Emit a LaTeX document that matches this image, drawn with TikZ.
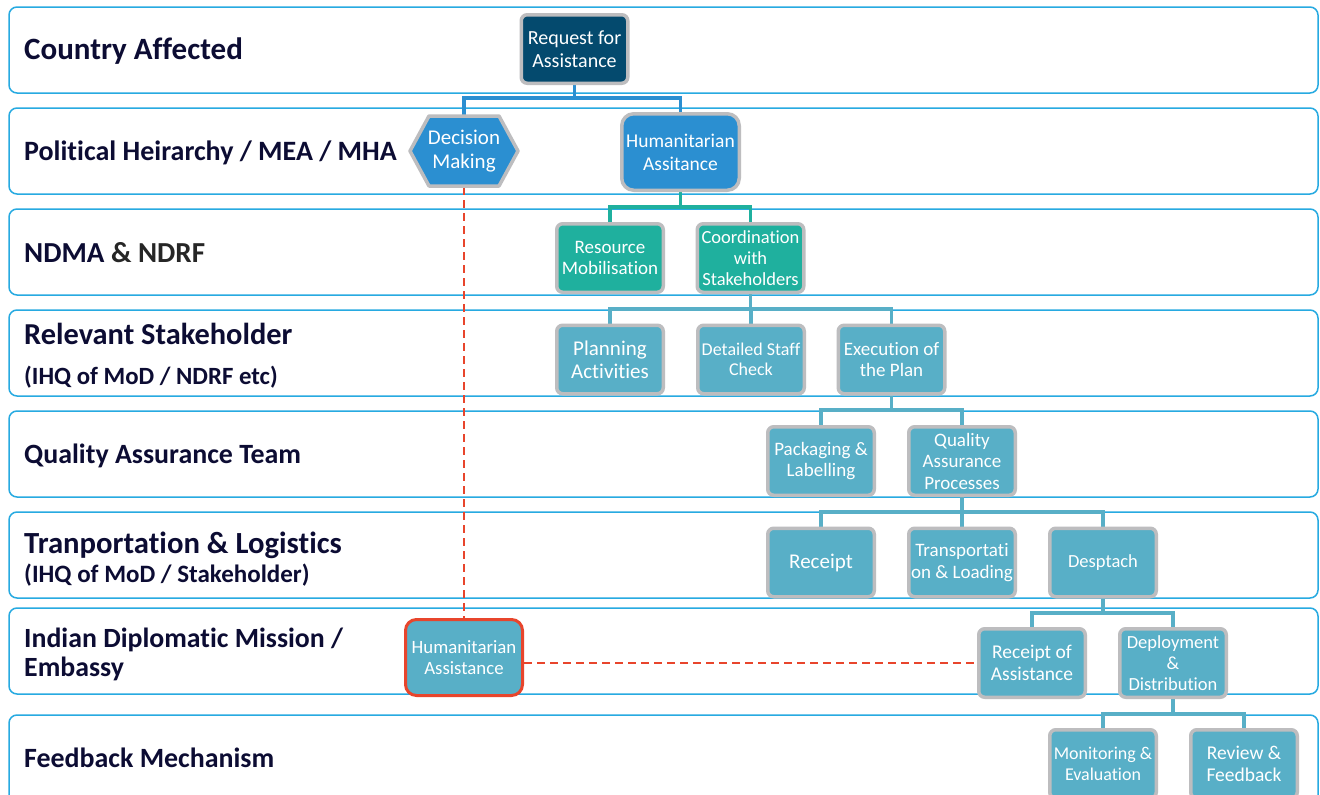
\documentclass[tikz,border=0pt]{standalone}
\usepackage{fontspec}
\setmainfont{Carlito}[Ligatures=NoCommon]
\usetikzlibrary{calc}

\definecolor{laneblue}{HTML}{27AAE1}
\definecolor{labelnavy}{HTML}{0C0C33}
\definecolor{labelgray}{HTML}{262626}
\definecolor{navybox}{HTML}{044A6E}
\definecolor{bluebox}{HTML}{2B8FD1}
\definecolor{tealbox}{HTML}{1FB09E}
\definecolor{lightbox}{HTML}{58AFC7}
\definecolor{boxgray}{HTML}{BDBDBF}
\definecolor{alertred}{HTML}{E8452C}

\pgfdeclarelayer{lanes}
\pgfdeclarelayer{links}
\pgfsetlayers{lanes,links,main}

\newcommand{\fsz}[1]{\fontsize{#1}{1.13\dimexpr#1pt\relax}\selectfont}

\tikzset{
  lane/.style={draw=laneblue, line width=1.5pt, rounded corners=8pt},
  lanetitle/.style={anchor=base west, inner sep=0pt, text=labelnavy,
    font=\fontsize{#1}{34}\selectfont\bfseries},
  lanetitle/.default=29,
  box/.style={draw=boxgray, line width=3.5pt, rounded corners=6pt, text=white,
    align=center, inner sep=0pt, minimum width=106.5pt, minimum height=68.5pt,
    font=\fsz{19}},
  txt/.style={font=\fsz{#1}},
  navyfill/.style={box, fill=navybox},
  bluefill/.style={box, fill=bluebox},
  tealfill/.style={box, fill=tealbox},
  lightfill/.style={box, fill=lightbox},
  link/.style={line width=3.5pt},
  redlink/.style={draw=alertred, line width=2pt, dash pattern=on 8pt off 5pt},
}

\begin{document}
\begin{tikzpicture}[x=1pt, y=-1pt]
\clip (0,0) rectangle (1320,795);

\begin{pgfonlayer}{lanes}
\fill[white] (0,0) rectangle (1320,795);
% swim lanes
\foreach \t in {7,108,209,310,411,512,608}
  \draw[lane] (9,\t) rectangle (1318,{\t+86});
\draw[lane] (9,715) rectangle (1318,830);
\end{pgfonlayer}

% lane titles
\node[lanetitle=31] (t1) at (24,59) {Country Affected};
\node[lanetitle=28] (t2) at (24,160) {Political Heirarchy / MEA / MHA};
\node[lanetitle=29] (t3) at (24,262) {NDMA \textcolor{labelgray}{\& NDRF}};
\node[lanetitle=30.4] (t4) at (24,344) {Relevant Stakeholder};
\node[lanetitle=24.8] (t4b) at (24,384) {(IHQ of MoD / NDRF etc)};
\node[lanetitle=27.9] (t5) at (24,463) {Quality Assurance Team};
\node[lanetitle=30.7] (t6) at (24,553) {Tranportation \& Logistics};
\node[lanetitle=25] (t6b) at (24,582) {(IHQ of MoD / Stakeholder)};
\node[lanetitle=27.8] (t7) at (24,647) {Indian Diplomatic Mission /};
\node[lanetitle=27.8] (t7b) at (24,676) {Embassy};
\node[lanetitle=27.9] (t8) at (24,767) {Feedback Mechanism};

% hexagon behind the decision node
\filldraw[fill=bluebox, draw=boxgray, line width=3.5pt, line join=round]
  (410,151) -- (429,116) -- (499,116) -- (518,151) -- (499,186) -- (429,186) -- cycle;

% process nodes
\node[navyfill, font=\fontsize{20}{23}\selectfont] (req) at (574.5,49) {Request for\\Assistance};
\node[text=white, align=center, inner sep=0pt, minimum width=110pt, minimum height=72pt,
      font=\fontsize{21}{24}\selectfont] (dec) at (464,151) {Decision\\Making};
\node[bluefill, font=\fontsize{19.5}{23}\selectfont, minimum width=117.5pt, minimum height=76.5pt,
      rounded corners=12pt] (hum) at (680.5,152) {Humanitarian\\Assitance};
\node[tealfill] (res) at (610,258) {Resource\\Mobilisation};
\node[tealfill, txt=18.5] (coord) at (750.5,258) {Coordination\\with\\Stakeholders};
\node[lightfill, font=\fontsize{21}{23}\selectfont] (plan) at (610,359.5) {Planning\\Activities};
\node[lightfill, txt=18] (staff) at (751,359.5) {Detailed Staff\\Check};
\node[lightfill] (exec) at (891.5,359.5) {Execution of\\the Plan};
\node[lightfill] (pack) at (821,461) {Packaging \&\\Labelling};
\node[lightfill] (qa) at (962,461) {Quality\\Assurance\\Processes};
\node[lightfill, txt=21] (rec) at (821,562.5) {Receipt};
\node[lightfill] (trans) at (962,562.5) {Transportati\\on \& Loading};
\node[lightfill, txt=18.5] (desp) at (1103,562.5) {Desptach};
\node[lightfill, txt=18.8, draw=alertred, line width=3pt, minimum width=117pt, minimum height=76pt,
      rounded corners=11pt] (aid) at (464,657.5) {Humanitarian\\Assistance};
\node[lightfill, font=\fontsize{19.5}{22}\selectfont] (roa) at (1032,663) {Receipt of\\Assistance};
\node[lightfill, txt=18.5] (dep) at (1173,663) {Deployment\\\&\\Distribution};
\node[lightfill, txt=18] (mon) at (1103,764) {Monitoring \&\\Evaluation};
\node[lightfill, txt=19.5] (rev) at (1244,764) {Review \&\\Feedback};

% branch points of the trees
\coordinate (j1) at (574.5,98);
\coordinate (j2) at (680.5,207);
\coordinate (j3) at (750.5,309);
\coordinate (j4) at (891.5,410);
\coordinate (j5) at (962,512);
\coordinate (j6) at (1103,613);
\coordinate (j7) at (1173,714);

% connectors, kept behind the node borders
\begin{pgfonlayer}{links}
\draw[link, draw=bluebox] (req.south) -- (j1);
\draw[link, draw=bluebox] (dec.north) |- (j1) -| (hum.north);
\draw[link, draw=tealbox] (hum.south) -- (j2);
\draw[link, draw=tealbox] (res.north) |- (j2) -| (coord.north);
\draw[link, draw=lightbox] (coord.south) -- (j3);
\draw[link, draw=lightbox] (plan.north) |- (j3) -| (exec.north);
\draw[link, draw=lightbox] (staff.north) -- (j3 -| staff.north);
\draw[link, draw=lightbox] (exec.south) -- (j4);
\draw[link, draw=lightbox] (pack.north) |- (j4) -| (qa.north);
\draw[link, draw=lightbox] (qa.south) -- (j5);
\draw[link, draw=lightbox] (rec.north) |- (j5) -| (desp.north);
\draw[link, draw=lightbox] (trans.north) -- (j5 -| trans.north);
\draw[link, draw=lightbox] (desp.south) -- (j6);
\draw[link, draw=lightbox] (roa.north) |- (j6) -| (dep.north);
\draw[link, draw=lightbox] (dep.south) -- (j7);
\draw[link, draw=lightbox] (mon.north) |- (j7) -| (rev.north);

% dashed escalation path
\draw[redlink] (dec.south) -- (aid.north);
\draw[redlink] (aid.east |- roa.west) -- (roa.west);
\end{pgfonlayer}
\end{tikzpicture}
\end{document}
